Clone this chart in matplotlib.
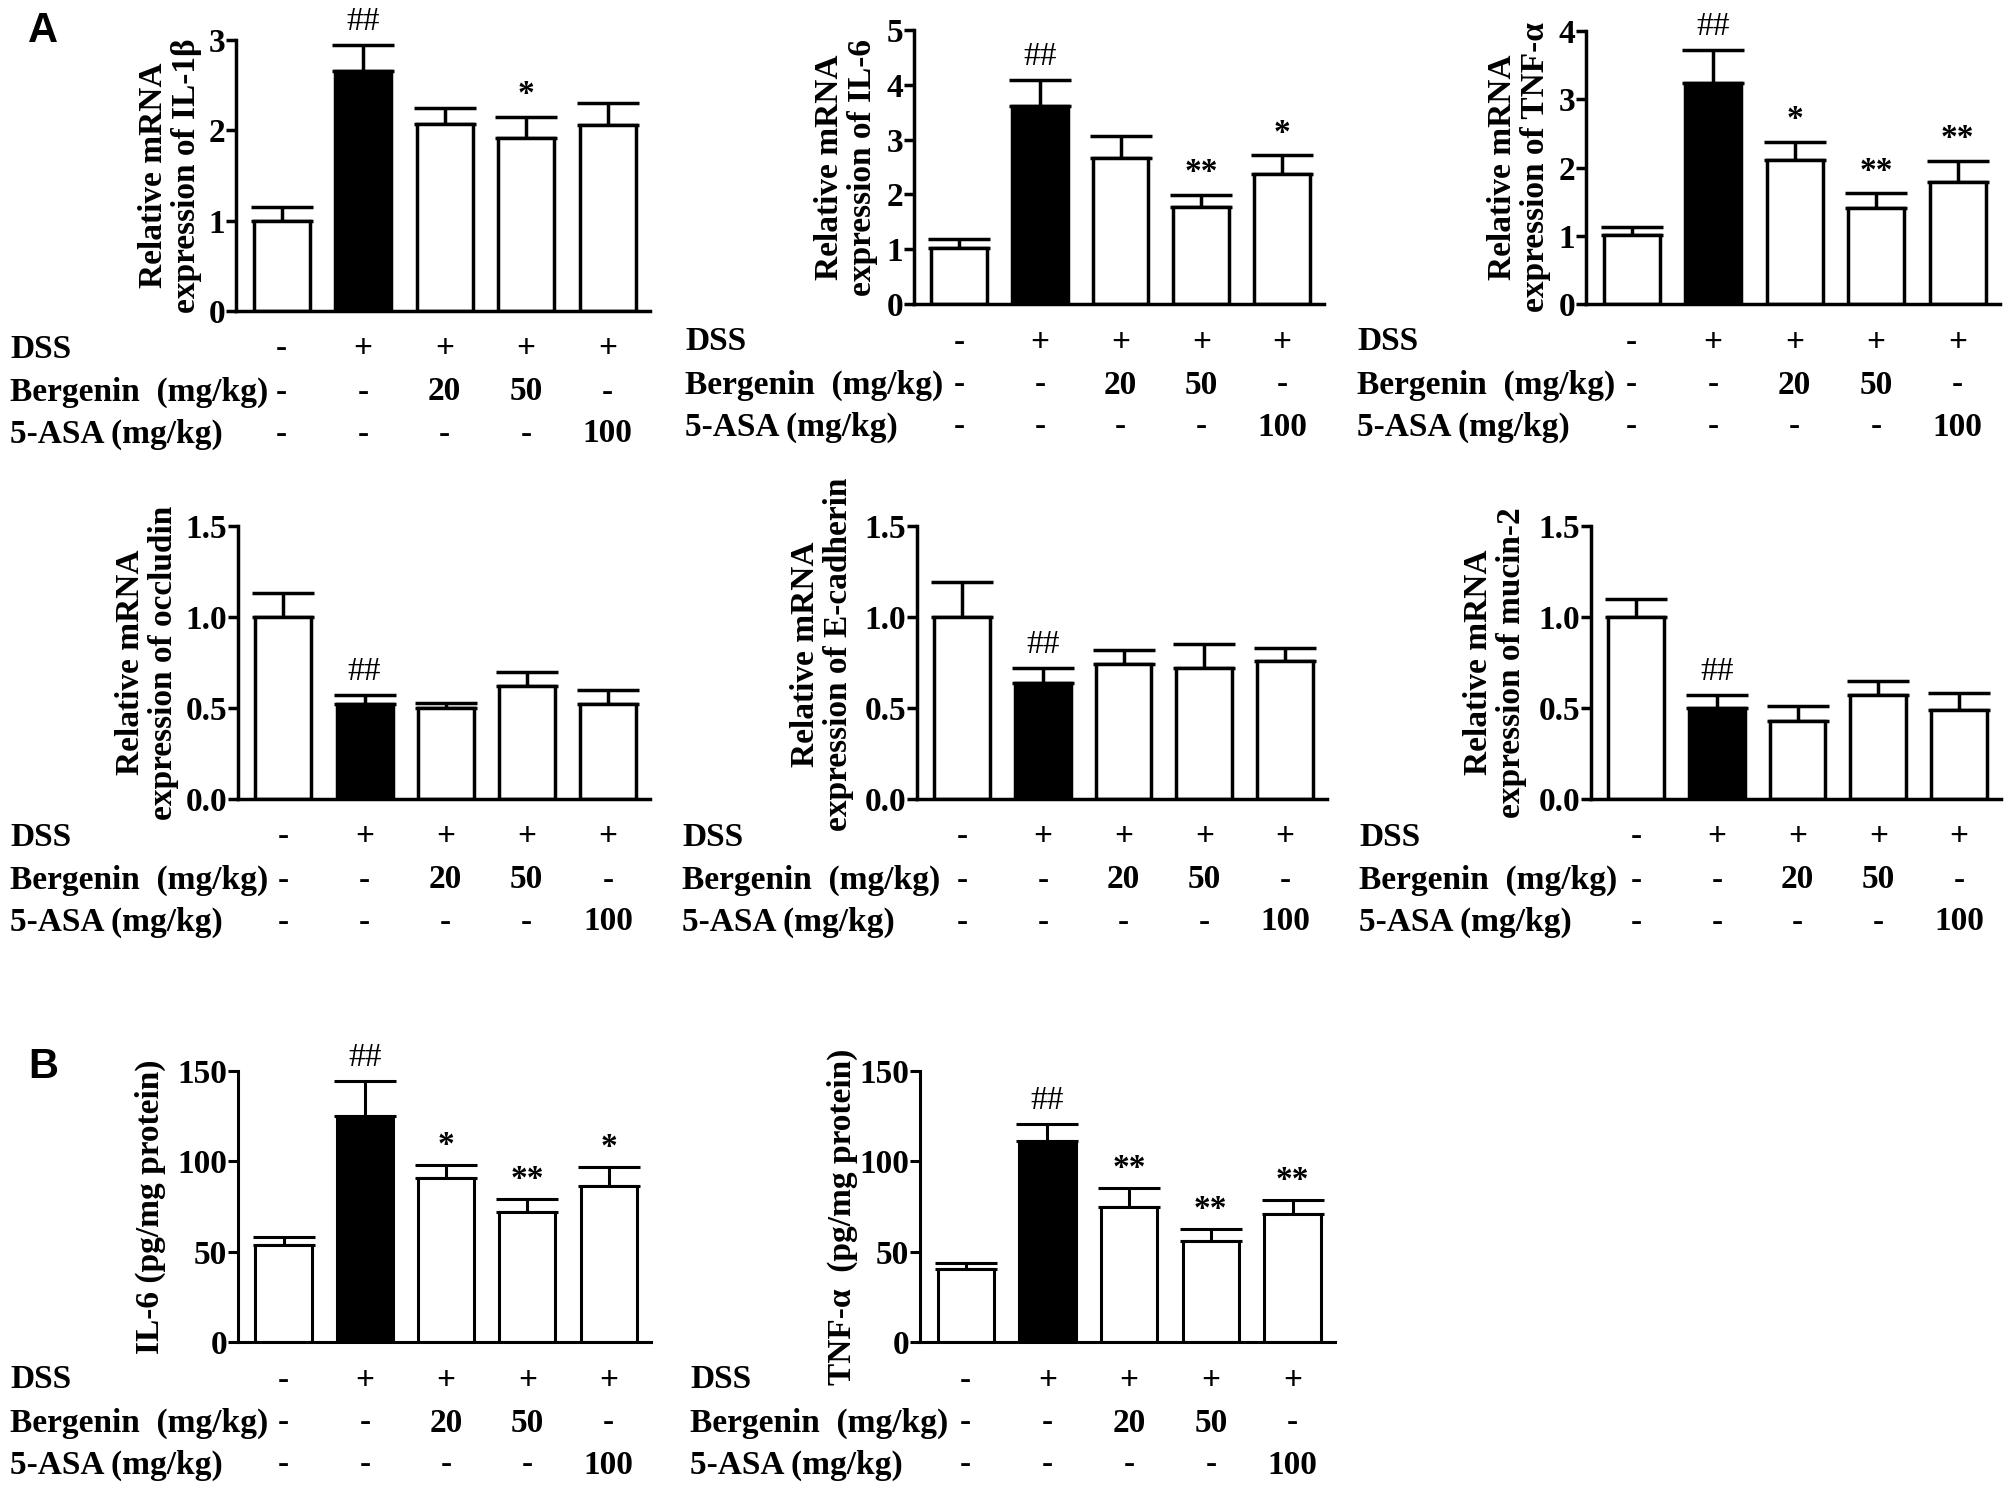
import matplotlib
matplotlib.use("Agg")
import matplotlib.pyplot as plt
from matplotlib import transforms

plt.rcParams["font.family"] = ["Liberation Serif", "DejaVu Serif"]
plt.rcParams["font.weight"] = "bold"
plt.rcParams["font.size"] = 24

# treatment table under each panel
dss_row = ["-", "+", "+", "+", "+"]
bergenin_row = ["-", "-", "20", "50", "-"]
asa_row = ["-", "-", "-", "-", "100"]
row_names = ["DSS", "Bergenin  (mg/kg)", "5-ASA (mg/kg)"]
fills = ["white", "black", "white", "white", "white"]

# A: relative mRNA expression (mean, SEM)
il1b_mean = [1.00, 2.66, 2.07, 1.92, 2.06]
il1b_sem = [0.15, 0.28, 0.18, 0.23, 0.24]
il1b_marks = ["", "##", "", "*", ""]

il6_mean = [1.02, 3.61, 2.66, 1.77, 2.37]
il6_sem = [0.17, 0.48, 0.40, 0.22, 0.34]
il6_marks = ["", "##", "", "**", "*"]

tnf_mean = [1.01, 3.24, 2.11, 1.41, 1.79]
tnf_sem = [0.12, 0.48, 0.26, 0.21, 0.30]
tnf_marks = ["", "##", "*", "**", "**"]

occ_mean = [1.00, 0.52, 0.50, 0.62, 0.52]
occ_sem = [0.13, 0.05, 0.03, 0.08, 0.08]
occ_marks = ["", "##", "", "", ""]

ecad_mean = [1.00, 0.64, 0.74, 0.72, 0.76]
ecad_sem = [0.19, 0.08, 0.08, 0.13, 0.07]
ecad_marks = ["", "##", "", "", ""]

muc_mean = [1.00, 0.50, 0.43, 0.57, 0.49]
muc_sem = [0.10, 0.07, 0.08, 0.08, 0.09]
muc_marks = ["", "##", "", "", ""]

# B: protein levels (pg/mg protein)
il6p_mean = [53.6, 125.2, 90.9, 71.7, 86.5]
il6p_sem = [4.6, 19.2, 7.0, 7.2, 10.5]
il6p_marks = ["", "##", "*", "**", "*"]

tnfp_mean = [40.3, 111.2, 74.8, 56.0, 70.6]
tnfp_sem = [3.7, 9.2, 10.2, 6.3, 7.9]
tnfp_marks = ["", "##", "**", "**", "**"]

W, H = 2009, 1490
fig = plt.figure(figsize=(W / 100, H / 100), dpi=100)


def panel(l, r, t, b, means, sems, marks, yticks, ticklabels, ylabel,
          lab_dx, lab_dy=0, lw=2.5, name_x=10, star_off=10):
    ax = fig.add_axes([l / W, 1 - b / H, (r - l) / W, (b - t) / H])
    x = list(range(len(means)))
    ax.errorbar(x, means, yerr=[[0] * len(sems), sems], fmt="none",
                ecolor="black", elinewidth=lw, capsize=22, capthick=lw,
                zorder=1)
    ax.bar(x, means, width=0.69, color=fills, edgecolor="black",
           linewidth=lw, zorder=2)
    for i, m in enumerate(marks):
        if not m:
            continue
        off = 11 if m[0] == "#" else star_off
        ax.annotate(m, (i, means[i] + sems[i]), xytext=(0, off),
                    textcoords="offset points", ha="center", va="baseline",
                    fontweight="normal" if m[0] == "#" else "bold")
    ax.set_xlim(-0.56, 4.52)
    ax.set_ylim(0, yticks[-1])
    ax.set_yticks(yticks)
    ax.set_yticklabels(ticklabels)
    ax.set_xticks([])
    for s in ["top", "right"]:
        ax.spines[s].set_visible(False)
    for s in ["left", "bottom"]:
        ax.spines[s].set_linewidth(lw)
    ax.tick_params(axis="y", direction="out", length=7, width=lw, pad=1,
                   labelsize=24)
    ax.text(lab_dx / (r - l), 0.5 - lab_dy / (b - t), ylabel,
            rotation=90, ha="center", va="center", transform=ax.transAxes,
            linespacing=1.1, fontsize=24)

    tr = transforms.blended_transform_factory(ax.transData, fig.transFigure)
    for k, row in enumerate([dss_row, bergenin_row, asa_row]):
        yy = 1 - (b + [38, 81, 123][k]) / H
        fig.text(name_x / W, yy, row_names[k], ha="left", va="center")
        for i, v in enumerate(row):
            fig.text(i, yy, v, ha="center", va="center", transform=tr)
    return ax


panel(236, 650, 40, 311, il1b_mean, il1b_sem, il1b_marks, [0, 1, 2, 3],
      ["0", "1", "2", "3"], "Relative mRNA\nexpression of IL-1\u03b2", -66)
panel(914, 1324, 30, 304, il6_mean, il6_sem, il6_marks, [0, 1, 2, 3, 4, 5],
      ["0", "1", "2", "3", "4", "5"], "Relative mRNA\nexpression of IL-6",
      -68, name_x=685)
panel(1586, 2000, 31, 304, tnf_mean, tnf_sem, tnf_marks, [0, 1, 2, 3, 4],
      ["0", "1", "2", "3", "4"], "Relative mRNA\nexpression of TNF-\u03b1",
      -67, name_x=1357)

t2 = ["0.0", "0.5", "1.0", "1.5"]
panel(238, 650, 526, 799, occ_mean, occ_sem, occ_marks, [0, 0.5, 1.0, 1.5],
      t2, "Relative mRNA\nexpression of occludin", -91)
panel(917, 1327, 526, 799, ecad_mean, ecad_sem, ecad_marks,
      [0, 0.5, 1.0, 1.5], t2, "Relative mRNA\nexpression of E-cadherin",
      -95, lab_dy=-8, name_x=682)
panel(1591, 2001, 526, 799, muc_mean, muc_sem, muc_marks, [0, 0.5, 1.0, 1.5],
      t2, "Relative mRNA\nexpression of mucin-2", -96, lab_dy=0,
      name_x=1359)

t3 = ["0", "50", "100", "150"]
panel(238, 651, 1071, 1342, il6p_mean, il6p_sem, il6p_marks,
      [0, 50, 100, 150], t3, "IL-6 (pg/mg protein)", -88, lw=2.2,
      star_off=8)
panel(920, 1335, 1071, 1342, tnfp_mean, tnfp_sem, tnfp_marks,
      [0, 50, 100, 150], t3, "TNF-\u03b1  (pg/mg protein)", -78, lab_dy=10,
      lw=2.2, name_x=690, star_off=8)

fig.text(28 / W, 1 - 11 / H, "A", family="Liberation Sans", fontsize=30,
         fontweight="bold", va="top")
fig.text(28 / W, 1 - 1047 / H, "B", family="Liberation Sans", fontsize=30,
         fontweight="bold", va="top")

fig.savefig("out.png", dpi=100, facecolor="white")
